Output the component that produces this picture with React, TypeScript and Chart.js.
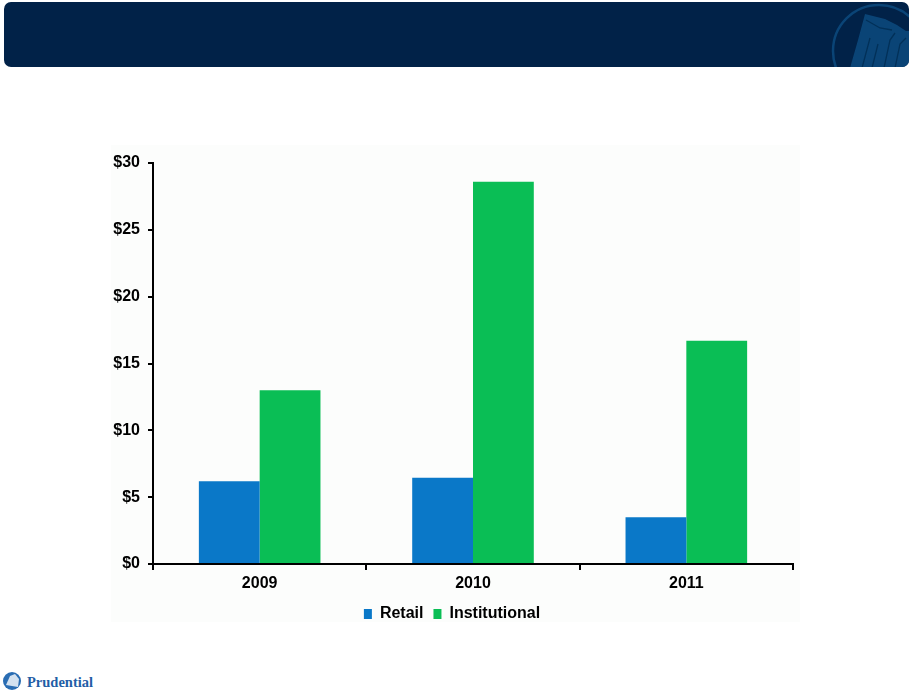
import React, { useEffect, useRef } from "react";
import { Chart, registerables } from "chart.js";

Chart.register(...registerables);

const categories = ["2009", "2010", "2011"];
const retailValues = [6.2, 6.45, 3.5];
const institutionalValues = [13.0, 28.6, 16.7];
const seriesNames = ["Retail", "Institutional"];
const yTickValues = [0, 5, 10, 15, 20, 25, 30];

const BLUE = "#0a78c8";
const GREEN = "#0abe55";
const FONT = "'Liberation Sans', Arial, sans-serif";

function BarChart() {
  const ref = useRef<HTMLCanvasElement | null>(null);
  useEffect(() => {
    if (!ref.current) return;
    const chart = new Chart(ref.current, {
      type: "bar",
      data: {
        labels: categories,
        datasets: [
          {
            label: seriesNames[0],
            data: retailValues,
            backgroundColor: BLUE,
            borderWidth: 0,
            categoryPercentage: 0.57,
            barPercentage: 1.0,
          },
          {
            label: seriesNames[1],
            data: institutionalValues,
            backgroundColor: GREEN,
            borderWidth: 0,
            categoryPercentage: 0.57,
            barPercentage: 1.0,
          },
        ],
      },
      options: {
        animation: false,
        responsive: false,
        maintainAspectRatio: false,
        layout: { padding: { left: 0, right: 7, top: 18, bottom: 4 } },
        plugins: {
          tooltip: { enabled: false },
          legend: {
            position: "bottom",
            labels: {
              color: "#000",
              boxWidth: 8,
              boxHeight: 10,
              padding: 10,
              font: { family: FONT, size: 16, weight: "bold" },
            },
          },
        },
        scales: {
          x: {
            grid: {
              offset: true,
              drawOnChartArea: false,
              drawTicks: true,
              tickLength: 6,
              color: "#000",
              lineWidth: 2,
            },
            border: { display: true, color: "#000", width: 2 },
            ticks: {
              color: "#000",
              padding: 4,
              font: { family: FONT, size: 16, weight: "bold" },
            },
            afterFit: (s: any) => {
              s.height = 32;
            },
          },
          y: {
            min: 0,
            max: 30,
            afterBuildTicks: (s: any) => {
              s.ticks = yTickValues.map((v) => ({ value: v }));
            },
            grid: {
              drawOnChartArea: false,
              drawTicks: true,
              tickLength: 5,
              color: "#000",
              lineWidth: 2,
            },
            border: { display: true, color: "#000", width: 2 },
            ticks: {
              color: "#000",
              padding: 8,
              font: { family: FONT, size: 16, weight: "bold" },
              callback: (v: any) => "$" + v,
            },
            afterFit: (s: any) => {
              s.width = 42;
            },
          },
        },
      },
    });
    return () => chart.destroy();
  }, []);
  return (
    <canvas
      ref={ref}
      width={689}
      height={491}
      style={{ position: "absolute", left: 111, top: 145, width: 689, height: 491 }}
    />
  );
}

export default function App() {
  return (
    <div style={{ position: "absolute", left: 0, top: 0, width: 910, height: 693, background: "#fff", overflow: "hidden" }}>
      <svg width={910} height={75} style={{ position: "absolute", left: 0, top: 0 }}>
        <defs>
          <clipPath id="hdr">
            <rect x={4} y={2} width={905} height={65} rx={7} />
          </clipPath>
        </defs>
        <rect x={4} y={2} width={905} height={65} rx={7} fill="#012248" />
        <g clipPath="url(#hdr)">
          <circle cx={879} cy={51} r={46} fill="none" stroke="#0a4476" strokeWidth={2.5} />
          <path
            d="M850 68 L858 40 L865 14 L873 16 L885 19 L897 25 L906 31 L910 31 L910 68 Z"
            fill="#0a4476"
          />
          <path
            d="M862 68 L870 38 M872 68 L878 44 M884 68 L890 40 L895 33 M895 68 L900 44 L906 38 M866 20 L880 28 L892 30"
            stroke="#023058"
            strokeWidth={1.3}
            fill="none"
          />
        </g>
      </svg>
      <div style={{ position: "absolute", left: 111, top: 145, width: 689, height: 477, background: "#fcfdfc" }} />
      <BarChart />
      <svg width={200} height={30} style={{ position: "absolute", left: 0, top: 665 }}>
        <circle cx={12} cy={16} r={9} fill="#2a6db3" />
        <path d="M6 20 L10 11 L15 9 L19 14 L18 22 Z" fill="#ffffff" opacity={0.8} />
        <text x={27} y={22} fill="#1f5ea6" fontFamily="'Liberation Serif', serif" fontWeight="bold" fontSize={14.5}>
          Prudential
        </text>
      </svg>
    </div>
  );
}
